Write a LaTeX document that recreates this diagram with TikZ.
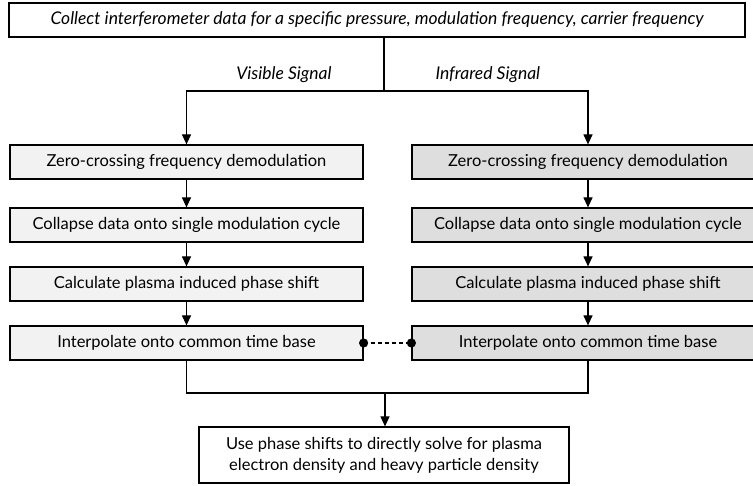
\documentclass[tikz,border=0pt]{standalone}
\usepackage{fontspec}
\setmainfont{Lato}
\usepackage{tikz}
\usetikzlibrary{arrows.meta, calc}

\definecolor{visfill}{HTML}{F2F2F2}
\definecolor{irfill}{HTML}{DEDEDE}

\begin{document}
\begin{tikzpicture}[
    x=1pt, y=-1pt,
    box/.style={draw, line width=1.2pt, minimum height=34pt, inner sep=2pt,
                align=center, font=\fontsize{16.5}{21}\selectfont},
    visbox/.style={box, fill=visfill, minimum width=353pt},
    irbox/.style={box, fill=irfill, minimum width=352pt},
    arr/.style={-{Triangle[length=10pt,width=9pt]}, line width=1.2pt},
    line/.style={line width=1.2pt},
    lbl/.style={font=\fontsize{17.5}{21}\selectfont\itshape}
  ]
    \useasboundingbox (0,0) rectangle (753,486);
    \clip (0,0) rectangle (753,486);
    \node[box, minimum width=736pt, font=\fontsize{17.5}{21}\selectfont\itshape] (collect) at (377,20)
      {Collect interferometer data for a specific pressure, modulation frequency, carrier frequency};
    % visible branch
    \node[visbox] (vzero)   at (186.5,162) {Zero-crossing frequency demodulation};
    \node[visbox] (vcollap) at (186.5,225) {Collapse data onto single modulation cycle};
    \node[visbox] (vphase)  at (186.5,284) {Calculate plasma induced phase shift};
    \node[visbox] (vinterp) at (186.5,343) {Interpolate onto common time base};
    % infrared branch
    \node[irbox] (izero)   at (588,162) {Zero-crossing frequency demodulation};
    \node[irbox] (icollap) at (588,225) {Collapse data onto single modulation cycle};
    \node[irbox] (iphase)  at (588,284) {Calculate plasma induced phase shift};
    \node[irbox] (iinterp) at (588,343) {Interpolate onto common time base};
    \node[box, fill=white, minimum width=370pt, minimum height=56pt] (solve) at (384,455)
      {Use phase shifts to directly solve for plasma\\electron density and heavy particle density};
    \node[lbl, anchor=east] (vislbl) at (335,75) {Visible Signal};
    \node[lbl, anchor=west] (irlbl)  at (432,75) {Infrared Signal};
    \coordinate (split) at (384,91);
    \coordinate (merge) at (385,393);
    \draw[line] (split |- collect.south) -- (split);
    \draw[arr] (split) -| (vzero.north);
    \draw[arr] (split) -| (izero.north);
    \draw[arr] (vzero) -- (vcollap); \draw[arr] (vcollap) -- (vphase);
    \draw[arr] (vphase) -- (vinterp);
    \draw[arr] (izero) -- (icollap); \draw[arr] (icollap) -- (iphase);
    \draw[arr] (iphase) -- (iinterp);
    \draw[line, dashed, dash pattern=on 4pt off 3pt] (vinterp.east) -- (iinterp.west);
    \fill (vinterp.east) circle (4.6pt);
    \fill (iinterp.west) circle (4.6pt);
    \draw[line] (vinterp.south) |- (merge);
    \draw[line] (iinterp.south) |- (merge);
    \draw[arr] (merge) -- (merge |- solve.north);
  \end{tikzpicture}
\end{document}
